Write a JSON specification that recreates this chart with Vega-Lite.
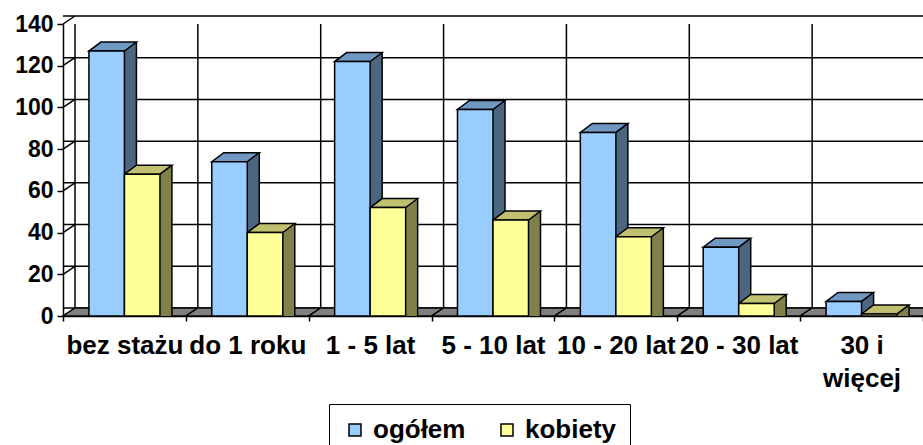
{
  "$schema": "https://vega.github.io/schema/vega-lite/v6.json",
  "autosize": "none",
  "width": 860,
  "height": 292,
  "padding": {"left": 63, "top": 24, "right": 0, "bottom": 129},
  "background": "white",
  "config": {
    "view": {"stroke": null},
    "font": "Liberation Sans",
    "axisX": {
      "tickBand": "extent",
      "labelFont": "Liberation Sans",
      "labelFontSize": 26,
      "labelFontWeight": "bold",
      "labelColor": "black",
      "labelAngle": 0,
      "labelPadding": 11,
      "labelLineHeight": 33,
      "tickColor": "black",
      "tickSize": 5,
      "tickWidth": 1.5,
      "domainColor": "black",
      "domainWidth": 1.5,
      "grid": false,
      "labelLimit": 0,
      "labelOverlap": false,
      "labelExpr": "datum.value == '30 i więcej' ? ['30 i', 'więcej'] : datum.label"
    },
    "axisY": {
      "values": [0, 20, 40, 60, 80, 100, 120, 140],
      "labelFont": "Liberation Sans",
      "labelFontSize": 23,
      "labelFontWeight": "bold",
      "labelColor": "black",
      "labelPadding": 4,
      "tickColor": "black",
      "tickSize": 6,
      "tickWidth": 1.5,
      "domainColor": "black",
      "domainWidth": 1.5,
      "grid": false
    }
  },
  "datasets": {
    "bars": [
      {"cat": "bez stażu", "series": "ogółem", "value": 127},
      {"cat": "bez stażu", "series": "kobiety", "value": 68},
      {"cat": "do 1 roku", "series": "ogółem", "value": 74},
      {"cat": "do 1 roku", "series": "kobiety", "value": 40},
      {"cat": "1 - 5 lat", "series": "ogółem", "value": 122},
      {"cat": "1 - 5 lat", "series": "kobiety", "value": 52},
      {"cat": "5 - 10 lat", "series": "ogółem", "value": 99},
      {"cat": "5 - 10 lat", "series": "kobiety", "value": 46},
      {"cat": "10 - 20 lat", "series": "ogółem", "value": 88},
      {"cat": "10 - 20 lat", "series": "kobiety", "value": 38},
      {"cat": "20 - 30 lat", "series": "ogółem", "value": 33},
      {"cat": "20 - 30 lat", "series": "kobiety", "value": 6},
      {"cat": "30 i więcej", "series": "ogółem", "value": 7},
      {"cat": "30 i więcej", "series": "kobiety", "value": 1}
    ],
    "grid": [{"v": 0}, {"v": 20}, {"v": 40}, {"v": 60}, {"v": 80}, {"v": 100}, {"v": 120}, {"v": 140}],
    "cats": [
      {"cat": "bez stażu"}, {"cat": "do 1 roku"}, {"cat": "1 - 5 lat"}, {"cat": "5 - 10 lat"},
      {"cat": "10 - 20 lat"}, {"cat": "20 - 30 lat"}, {"cat": "30 i więcej"}
    ]
  },
  "layer": [
    {
      "data": {"name": "grid"},
      "mark": {"type": "rule", "xOffset": 12, "yOffset": -8, "stroke": "black", "strokeWidth": 1.5},
      "encoding": {
        "y": {"field": "v", "type": "quantitative", "title": null,
              "scale": {"domain": [0, 140], "nice": false, "zero": true}}
      }
    },
    {
      "data": {"name": "cats"},
      "mark": {"type": "rule", "xOffset": 12, "yOffset": -8, "stroke": "black", "strokeWidth": 1.5},
      "encoding": {
        "x": {"field": "cat", "type": "nominal", "bandPosition": 0, "title": null,
              "scale": {"domain": ["bez stażu", "do 1 roku", "1 - 5 lat", "5 - 10 lat", "10 - 20 lat", "20 - 30 lat", "30 i więcej"], "paddingInner": 0, "paddingOuter": 0}},
        "y": {"datum": 0, "type": "quantitative", "title": null},
        "y2": {"datum": 140}
      }
    },
    {
      "data": {"name": "grid"},
      "mark": {"type": "point", "shape": "M0,0L12,-8", "size": 4, "filled": false, "stroke": "black", "strokeWidth": 1.5, "opacity": 1},
      "encoding": {
        "x": {"datum": "bez stażu", "type": "nominal", "bandPosition": 0, "title": null},
        "y": {"field": "v", "type": "quantitative", "title": null}
      }
    },
    {
      "data": {"name": "cats"},
      "mark": {"type": "point", "shape": "M0,0L122.86,0L134.86,-8L12,-8Z", "size": 4, "filled": true, "fill": "#808080", "stroke": "black", "strokeWidth": 1.5, "opacity": 1},
      "encoding": {
        "x": {"field": "cat", "type": "nominal", "bandPosition": 0, "title": null},
        "y": {"datum": 0, "type": "quantitative", "title": null}
      }
    },
    {
      "data": {"name": "bars"},
      "transform": [{"filter": "datum.series == 'ogółem'"}],
      "mark": {"type": "rule", "strokeWidth": 12, "strokeCap": "butt", "xOffset": 6, "yOffset": -9, "stroke": "#4C6580", "opacity": 1},
      "encoding": {
        "x": {"field": "cat", "type": "nominal", "bandPosition": 0.5, "title": null},
        "y": {"field": "value", "type": "quantitative", "title": null},
        "y2": {"datum": 0}
      }
    },
    {
      "data": {"name": "bars"},
      "transform": [{"filter": "datum.series == 'ogółem'"}],
      "mark": {"type": "rule", "strokeWidth": 1.5, "xOffset": 12, "yOffset": -9, "stroke": "black"},
      "encoding": {
        "x": {"field": "cat", "type": "nominal", "bandPosition": 0.5, "title": null},
        "y": {"field": "value", "type": "quantitative", "title": null},
        "y2": {"datum": 0}
      }
    },
    {
      "data": {"name": "bars"},
      "transform": [{"filter": "datum.series == 'kobiety'"}],
      "mark": {"type": "rule", "strokeWidth": 12, "strokeCap": "butt", "xOffset": 41.5, "yOffset": -9, "stroke": "#808048", "opacity": 1},
      "encoding": {
        "x": {"field": "cat", "type": "nominal", "bandPosition": 0.5, "title": null},
        "y": {"field": "value", "type": "quantitative", "title": null},
        "y2": {"datum": 0}
      }
    },
    {
      "data": {"name": "bars"},
      "transform": [{"filter": "datum.series == 'kobiety'"}],
      "mark": {"type": "rule", "strokeWidth": 1.5, "xOffset": 47.5, "yOffset": -9, "stroke": "black"},
      "encoding": {
        "x": {"field": "cat", "type": "nominal", "bandPosition": 0.5, "title": null},
        "y": {"field": "value", "type": "quantitative", "title": null},
        "y2": {"datum": 0}
      }
    },
    {
      "data": {"name": "bars"},
      "mark": {"type": "point", "shape": "M-17.75,0L17.75,0L29.75,-9L-5.75,-9Z", "size": 4, "filled": true, "stroke": "black", "strokeWidth": 1.5, "opacity": 1},
      "encoding": {
        "x": {"field": "cat", "type": "nominal", "title": null},
        "xOffset": {"field": "series", "type": "nominal", "scale": {"domain": ["ogółem", "kobiety"], "paddingInner": 0, "paddingOuter": 0.73}},
        "y": {"field": "value", "type": "quantitative", "title": null},
        "fill": {"condition": {"test": "datum.series == 'ogółem'", "value": "#6F98C2"}, "value": "#C0C070"}
      }
    },
    {
      "data": {"name": "bars"},
      "mark": {"type": "bar", "stroke": "black", "strokeWidth": 1.5},
      "encoding": {
        "x": {"field": "cat", "type": "nominal", "title": null},
        "xOffset": {"field": "series", "type": "nominal"},
        "y": {"field": "value", "type": "quantitative", "title": null},
        "color": {
          "field": "series", "type": "nominal",
          "scale": {"domain": ["ogółem", "kobiety"], "range": ["#99CCFF", "#FFFF99"]},
          "legend": {
            "orient": "none", "legendX": 266, "legendY": 380, "direction": "horizontal", "title": null,
            "symbolType": "square", "symbolSize": 144, "symbolStrokeColor": "black", "symbolStrokeWidth": 1.5,
            "labelFont": "Liberation Sans", "labelFontSize": 26, "labelFontWeight": "bold", "labelColor": "black",
            "strokeColor": "black", "fillColor": "white", "padding": 13, "columnPadding": 28, "labelOffset": 5
          }
        }
      }
    }
  ]
}
